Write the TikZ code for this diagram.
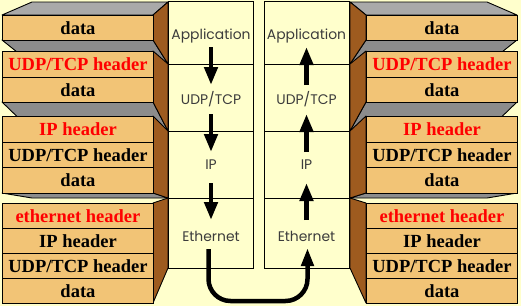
\documentclass[tikz,border=0pt]{standalone}
\usepackage{fontspec}
\setmainfont{Liberation Serif}
\newfontfamily\layerfont{Poppins}
\usetikzlibrary{arrows.meta}
\definecolor{bg}{HTML}{FFFFCC}
\definecolor{boxfill}{HTML}{F2C476}
\definecolor{sidebrown}{HTML}{9E5B1F}
\definecolor{topgray}{HTML}{A9A9A9}
\definecolor{botgray}{HTML}{8C8C8C}
\definecolor{layertext}{HTML}{3C3C3C}
\begin{document}
\begin{tikzpicture}[x=1pt,y=-1pt,
  face/.style={draw=black, line width=0.9pt, line join=round},
  pkt/.style={draw=black, line width=0.9pt, fill=boxfill, minimum width=151pt,
    inner sep=0pt, anchor=north west, font=\fontsize{18.5}{20}\selectfont\bfseries},
  hdr/.style={pkt, text=red},
  cell/.style={draw=black, line width=0.9pt, fill=bg, minimum width=85pt, inner sep=0pt},
  lbl/.style={font=\layerfont\fontsize{13.9}{16}\selectfont, text=layertext, inner sep=0pt},
  flow/.style={line width=4.5pt, -{Triangle[width=13pt,length=18pt]}},
]
\useasboundingbox (0,0) rectangle (521,306);
\fill[bg] (0,0) rectangle (521,306);

% ---------- left stack ----------
% group 1
\filldraw[face, fill=topgray] (2,15) -- (153,15) -- (168,2) -- (32,2) -- cycle;
\filldraw[face, fill=botgray] (2,40) -- (153,40) -- (168,64) -- (32,64) -- cycle;
\filldraw[face, fill=sidebrown] (153,15) -- (168,2) -- (168,64) -- (153,40) -- cycle;
\node[pkt, minimum height=25pt] (l1a) at (2,15) {data};
% group 2
\filldraw[face, fill=botgray] (2,102) -- (153,102) -- (168,131) -- (32,131) -- cycle;
\filldraw[face, fill=sidebrown] (153,51) -- (168,64) -- (168,131) -- (153,102) -- cycle;
\node[hdr, minimum height=25.5pt] (l2a) at (2,51) {UDP/TCP header};
\node[pkt, minimum height=25.5pt] (l2b) at (2,76.5) {data};
% group 3
\filldraw[face, fill=botgray] (2,193) -- (153,193) -- (168,198) -- (32,198) -- cycle;
\filldraw[face, fill=sidebrown] (153,116) -- (168,131) -- (168,198) -- (153,193) -- cycle;
\node[hdr, minimum height=25.67pt] (l3a) at (2,116) {IP header};
\node[pkt, minimum height=25.67pt] (l3b) at (2,141.67) {UDP/TCP header};
\node[pkt, minimum height=25.67pt] (l3c) at (2,167.33) {data};
% group 4
\filldraw[face, fill=sidebrown] (153,203) -- (168,198) -- (168,268) -- (153,303) -- cycle;
\node[hdr, minimum height=25pt] (l4a) at (2,203) {ethernet header};
\node[pkt, minimum height=25pt] (l4b) at (2,228) {IP header};
\node[pkt, minimum height=25pt] (l4c) at (2,253) {UDP/TCP header};
\node[pkt, minimum height=25pt] (l4d) at (2,278) {data};

% ---------- right stack ----------
% group 1
\filldraw[face, fill=topgray] (517,15) -- (366,15) -- (350,2) -- (487,2) -- cycle;
\filldraw[face, fill=botgray] (517,40) -- (366,40) -- (350,64) -- (487,64) -- cycle;
\filldraw[face, fill=sidebrown] (366,15) -- (350,2) -- (350,64) -- (366,40) -- cycle;
\node[pkt, minimum height=25pt] (r1a) at (366,15) {data};
% group 2
\filldraw[face, fill=botgray] (517,102) -- (366,102) -- (350,131) -- (487,131) -- cycle;
\filldraw[face, fill=sidebrown] (366,51) -- (350,64) -- (350,131) -- (366,102) -- cycle;
\node[hdr, minimum height=25.5pt] (r2a) at (366,51) {UDP/TCP header};
\node[pkt, minimum height=25.5pt] (r2b) at (366,76.5) {data};
% group 3
\filldraw[face, fill=botgray] (517,193) -- (366,193) -- (350,198) -- (487,198) -- cycle;
\filldraw[face, fill=sidebrown] (366,116) -- (350,131) -- (350,198) -- (366,193) -- cycle;
\node[hdr, minimum height=25.67pt] (r3a) at (366,116) {IP header};
\node[pkt, minimum height=25.67pt] (r3b) at (366,141.67) {UDP/TCP header};
\node[pkt, minimum height=25.67pt] (r3c) at (366,167.33) {data};
% group 4
\filldraw[face, fill=sidebrown] (366,203) -- (350,198) -- (350,268) -- (366,303) -- cycle;
\node[hdr, minimum height=25pt] (r4a) at (366,203) {ethernet header};
\node[pkt, minimum height=25pt] (r4b) at (366,228) {IP header};
\node[pkt, minimum height=25pt] (r4c) at (366,253) {UDP/TCP header};
\node[pkt, minimum height=25pt] (r4d) at (366,278) {data};

% ---------- layer columns ----------
\node[cell, minimum height=62.5pt] (appL) at (210.5,32.75) {};
\node[cell, minimum height=67pt] (udpL) at (210.5,97.5) {};
\node[cell, minimum height=67pt] (ipL) at (210.5,164.5) {};
\node[cell, minimum height=70pt] (ethL) at (210.5,233) {};
\node[cell, minimum height=62.5pt] (appR) at (306.5,32.75) {};
\node[cell, minimum height=67pt] (udpR) at (306.5,97.5) {};
\node[cell, minimum height=67pt] (ipR) at (306.5,164.5) {};
\node[cell, minimum height=70pt] (ethR) at (306.5,233) {};

\node[lbl] (tappL) at (211,36.5) {Application};
\node[lbl] (tudpL) at (211,99) {UDP/TCP};
\node[lbl] (tipL) at (211,165) {IP};
\node[lbl] (tethL) at (211,236.5) {Ethernet};
\node[lbl] (tappR) at (306.5,36.5) {Application};
\node[lbl] (tudpR) at (306.5,99) {UDP/TCP};
\node[lbl] (tipR) at (306.5,165) {IP};
\node[lbl] (tethR) at (306.5,236.5) {Ethernet};

% ---------- arrows ----------
\coordinate (d1s) at (211,47);  \coordinate (d1e) at (211,85);
\coordinate (d2s) at (211,114); \coordinate (d2e) at (211,152);
\coordinate (d3s) at (211,183); \coordinate (d3e) at (211,220);
\coordinate (u1s) at (306.5,85);  \coordinate (u1e) at (306.5,47);
\coordinate (u2s) at (306.5,152); \coordinate (u2e) at (306.5,114);
\coordinate (u3s) at (306.5,220); \coordinate (u3e) at (306.5,183);
\draw[flow] (d1s) -- (d1e);
\draw[flow] (d2s) -- (d2e);
\draw[flow] (d3s) -- (d3e);
\draw[flow] (u1s) -- (u1e);
\draw[flow] (u2s) -- (u2e);
\draw[flow] (u3s) -- (u3e);

\coordinate (cs) at (208.5,249);
\coordinate (cb1) at (208.5,301);
\coordinate (cb2) at (307.5,301);
\coordinate (ce) at (307.5,248);
\draw[line width=4.5pt, -{Triangle[width=12pt,length=18pt]}, rounded corners=22pt]
  (cs) -- (cb1) -- (cb2) -- (ce);
\end{tikzpicture}
\end{document}
